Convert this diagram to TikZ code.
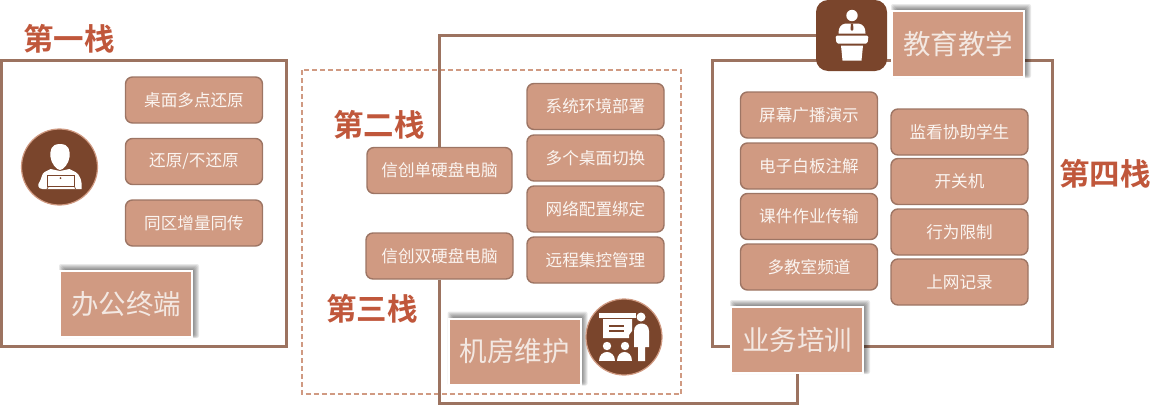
\documentclass[tikz,border=0pt]{standalone}
\usepackage{fontspec}
\usetikzlibrary{calc}
\setmainfont{Noto Sans CJK SC}[BoldFont={Noto Sans CJK SC Bold}]
\definecolor{fill1}{HTML}{D09A82}
\definecolor{edge1}{HTML}{9D7564}
\definecolor{frame1}{HTML}{9C7360}
\definecolor{icon1}{HTML}{7A452C}
\definecolor{title1}{HTML}{C0573B}
\definecolor{dash1}{HTML}{D09A82}
\definecolor{txt1}{HTML}{FBF5F1}
\definecolor{txt2}{HTML}{F3E8E2}
\tikzset{
  framebox/.style={draw=frame1,line width=3pt},
  conn/.style={draw=frame1,line width=3pt},
  pill/.style={draw=edge1,line width=1.4pt,fill=fill1,rounded corners=7pt,minimum width=137pt,minimum height=46pt,inner sep=0pt,text=txt1,font=\fontsize{16.6}{18}\selectfont,anchor=center},
  tag/.style={draw=white,line width=2pt,fill=fill1,minimum width=132pt,minimum height=66pt,inner sep=0pt,text=txt2,font=\fontsize{27.5}{30}\selectfont},
  heading/.style={text=title1,font=\fontsize{30.5}{33}\selectfont\bfseries,inner sep=0pt},
  badge/.style={circle,draw=fill1,line width=1.2pt,fill=icon1,minimum size=76pt,inner sep=0pt},
  iconbox/.style={fill=icon1,rounded corners=12pt,minimum width=71pt,minimum height=71pt,inner sep=0pt},
  glyph/.style={fill=white,draw=none},
}
% soft shadow behind a tag, up and to the right: #1 = centre
\newcommand{\softshade}[1]{%
  \foreach \g in {4,3,2,1,0,-1}{%
    \fill[black,opacity=0.085,rounded corners=2pt] ($(#1)+(-66+3-\g,33-1+\g*0.5)$) rectangle ($(#1)+(66+3+\g,-33-3-\g)$);
  }}
\begin{document}
\begin{tikzpicture}[x=1pt,y=-1pt]
\useasboundingbox (0,0) rectangle (1170,407);
% frames
\draw[framebox] (1.5,60) rectangle (286.5,346.5);
\draw[dash1,line width=2pt,dash pattern=on 5pt off 3pt] (301.5,70) rectangle (681,394);
\draw[framebox] (712.5,60.5) rectangle (1052,346.5);
% nodes
\node[heading] (h1) at (69,38.5) {第一栈};
\node[heading] (h2) at (379,125) {第二栈};
\node[heading] (h3) at (372,309) {第三栈};
\node[heading] (h4) at (1105,174) {第四栈};

\node[pill] (a1) at (194,100) {桌面多点还原};
\node[pill] (a2) at (194,161.5) {还原/不还原};
\node[pill] (a3) at (194,223) {同区增量同传};

\node[pill,minimum width=145pt] (b1) at (439.5,170.5) {信创单硬盘电脑};
\node[pill,minimum width=147pt] (b2) at (439.5,256) {信创双硬盘电脑};

\node[pill] (c1) at (595.5,106.5) {系统环境部署};
\node[pill] (c2) at (595.5,158) {多个桌面切换};
\node[pill] (c3) at (595.5,209) {网络配置绑定};
\node[pill] (c4) at (595.5,260) {远程集控管理};

\node[pill] (d1) at (809,115) {屏幕广播演示};
\node[pill] (d2) at (809,166) {电子白板注解};
\node[pill] (d3) at (809,216.5) {课件作业传输};
\node[pill] (d4) at (809,267) {多教室频道};

\node[pill] (e1) at (959.5,132) {监看协助学生};
\node[pill] (e2) at (959.5,181.5) {开关机};
\node[pill] (e3) at (959.5,232) {行为限制};
\node[pill] (e4) at (959.5,282) {上网记录};

\node[iconbox] (i4) at (851.5,35.5) {};
\softshade{958,44}
\node[tag] (t4) at (958,44) {教育教学};
\softshade{126,304}
\node[tag] (t1) at (126,304) {办公终端};
\softshade{514.5,351.5}
\node[tag] (t2) at (514.5,351.5) {机房维护};
\softshade{797,340}
\node[tag] (t3) at (797,340) {业务培训};

% connectors
\coordinate (topturn) at (439.5,35.5);
\coordinate (botturn) at (439.5,403.5);
\draw[conn] (b1.north) -- (topturn) -- (topturn -| i4.west);
\draw[conn] (b2.south) -- (botturn) -- (botturn -| t3.south) -- (t3.south);

% badges
\node[badge] (i1) at (59.5,167) {};
\node[badge] (i2) at (624,337) {};

% person with laptop
\begin{scope}[shift={(i1.center)}]
\fill[glyph] (0.5,-23) .. controls (-9,-23) and (-9.5,-16) .. (-9,-10) .. controls (-8.5,-4) and (-3,3) .. (0.5,3) .. controls (4,3) and (9.5,-4) .. (10,-10) .. controls (10.5,-16) and (10,-23) .. (0.5,-23) -- cycle;
\fill[glyph] (-9,2) -- (-15,5) .. controls (-18,7) and (-18,12) .. (-20,15) .. controls (-22,17) and (-22,22) .. (-17,22) -- (22,22) .. controls (23,14) and (20,7) .. (16,5) -- (10,2) -- (0.5,4) -- cycle;
\draw[icon1,line width=.9pt,fill=white] (-12.5,8) rectangle (15,19.5);
\draw[icon1,line width=.7pt] (-12.5,22) -- (-11,19.5) (15,19.5) -- (16,22);
\fill[icon1] (1,11) circle (1);
\end{scope}

% classroom
\begin{scope}[shift={(i2.center)}]
\fill[glyph] (-25,-24) rectangle (12,-19);
\fill[glyph] (-21,-18) -- (8,-18) -- (8,-6) -- (5,-2) -- (5,1) -- (-21,1) -- cycle;
\fill[icon1] (-15,-12.5) rectangle (0,-10.5);
\fill[icon1] (-15,-7.5) rectangle (0,-5.5);
\fill[icon1] (-17,9) circle (6);
\fill[icon1] (1,9) circle (6);
\fill[glyph] (-17,9) circle (4.2);
\fill[glyph] (1,9) circle (4.2);
\fill[glyph] (-25,24) .. controls (-25,12) and (-9,12) .. (-9,24) -- cycle;
\fill[glyph] (-7,24) .. controls (-7,12) and (8,12) .. (8,24) -- cycle;
\fill[glyph] (17,-20) circle (4.5);
\fill[glyph] (10,10) -- (10,-6) .. controls (10,-16) and (25,-16) .. (25,-6) -- (25,10) -- (21,10) -- (21,24) -- (14,24) -- (14,10) -- cycle;
\end{scope}

% speaker at podium
\begin{scope}[shift={(i4.center)}]
\fill[glyph] (0.5,-20) circle (5.7);
\fill[glyph] (-13,-2) .. controls (-13,-8) and (-11,-11) .. (-6,-12) -- (7,-12) .. controls (12,-11) and (14,-8) .. (14,-2) -- cycle;
\fill[glyph,rounded corners=1.5pt] (-16,0) -- (17,0) -- (16,8) -- (-15,8) -- cycle;
\fill[glyph] (-10.5,10) -- (11.5,10) -- (10,25) -- (-9,25) -- cycle;
\fill[icon1] (-.6,-12) -- (1.6,-12) -- (1.9,-6) -- (.5,-4.5) -- (-.9,-6) -- cycle;
\end{scope}
\end{tikzpicture}
\end{document}
